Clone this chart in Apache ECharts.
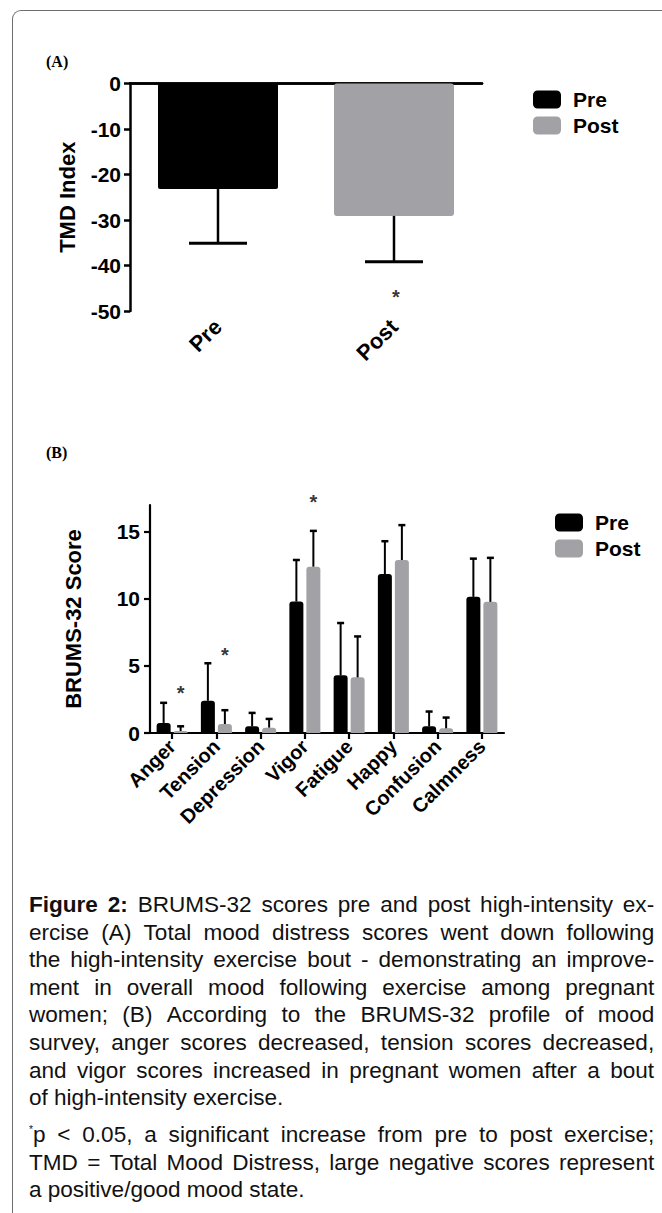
<!DOCTYPE html>
<html>
<head>
<meta charset="utf-8">
<script src="https://cdn.jsdelivr.net/npm/echarts@6/dist/echarts.min.js"></script>
<style>
  html, body { margin: 0; padding: 0; background: #fff; }
  body { width: 662px; height: 1213px; position: relative; overflow: hidden; font-family: 'Liberation Sans', Arial, sans-serif; }
  #frame { position: absolute; left: 12px; top: 10px; width: 720px; height: 1260px;
           border-left: 1.5px solid #6e6e6e; border-top: 1.5px solid #6e6e6e; border-top-left-radius: 9px; }
  #chart { position: absolute; left: 0; top: 0; width: 662px; height: 870px; }
  #caption { position: absolute; left: 29px; top: 891px; width: 610px; font-size: 22px; color: #111;
             transform: scaleX(1.025); transform-origin: 0 0; }
  .ln { display: flex; justify-content: space-between; height: 27.6px; line-height: 27.6px; white-space: nowrap; }
  .ln.last { justify-content: flex-start; gap: 6px; }
  .gap { height: 9.4px; }
  sup { font-size: 10px; position: relative; top: -9px; vertical-align: baseline; line-height: 0; }
</style>
</head>
<body>
<div id="frame"></div>
<div id="chart"></div>
<div id="caption"></div>
<script>
// (A) TMD index
const groupsA = ['Pre', 'Post'];
const tmdMean = [-23.2, -29.1];
const tmdSd = [11.9, 10.1];
const tmdStar = ['-', -45.5];

// (B) BRUMS-32 subscales
const moods = ['Anger', 'Tension', 'Depression', 'Vigor', 'Fatigue', 'Happy', 'Confusion', 'Calmness'];
const preMean = [0.75, 2.4, 0.5, 9.8, 4.3, 11.85, 0.5, 10.15];
const preSd = [1.5, 2.8, 1.0, 3.1, 3.9, 2.45, 1.1, 2.85];
const postMean = [0.15, 0.67, 0.4, 12.4, 4.15, 12.9, 0.35, 9.78];
const postSd = [0.35, 1.03, 0.65, 2.67, 3.05, 2.6, 0.8, 3.28];
const starB = [3.4, 6.3, '-', 17.7, '-', '-', '-', '-'];
const ticksB = [0, 5, 10, 15];

// caption, one entry per printed line ('' = paragraph break, '#' = last line of paragraph)
const captionLines = [
  '<b>Figure</b> <b>2:</b> BRUMS-32 scores pre and post high-intensity ex-',
  'ercise (A) Total mood distress scores went down following',
  'the high-intensity exercise bout - demonstrating an improve-',
  'ment in overall mood following exercise among pregnant',
  'women; (B) According to the BRUMS-32 profile of mood',
  'survey, anger scores decreased, tension scores decreased,',
  'and vigor scores increased in pregnant women after a bout',
  '#of high-intensity exercise.',
  '',
  '<sup>*</sup>p &lt; 0.05, a significant increase from pre to post exercise;',
  'TMD = Total Mood Distress, large negative scores represent',
  '#a positive/good mood state.'
];

const cap = document.getElementById('caption');
captionLines.forEach(function (l) {
  const d = document.createElement('div');
  if (l === '') { d.className = 'gap'; cap.appendChild(d); return; }
  const last = l.charAt(0) === '#';
  d.className = last ? 'ln last' : 'ln';
  d.innerHTML = (last ? l.slice(1) : l).split(' ').map(w => '<span>' + w + '</span>').join('');
  cap.appendChild(d);
});

const PRE = '#000000';
const POST = '#a2a2a6';
const FONT = "'Liberation Sans', Arial, sans-serif";
const barW = 14, barGapPx = 3;
const shift = (barW + barGapPx) / 2;

function errorBar(dir, dx, capW, lw) {
  return function (params, api) {
    const i = api.value(0), m = api.value(1), s = api.value(2);
    const p0 = api.coord([i, m]);
    const p1 = api.coord([i, m + dir * s]);
    const x = p0[0] + dx;
    return {
      type: 'group',
      children: [
        { type: 'line', shape: { x1: x, y1: p0[1], x2: x, y2: p1[1] }, style: { stroke: '#000', lineWidth: lw } },
        { type: 'line', shape: { x1: x - capW, y1: p1[1], x2: x + capW, y2: p1[1] }, style: { stroke: '#000', lineWidth: lw + 0.5 } }
      ]
    };
  };
}

const starLabel = (dx) => ({
  show: true, formatter: '*', position: 'inside', offset: [dx, 6],
  color: '#000', fontSize: 20, fontWeight: 'bold', fontFamily: FONT
});
const legendStyle = { fontSize: 21, fontWeight: 'bold', color: '#000', padding: [0, 0, 0, 7] };

const chart = echarts.init(document.getElementById('chart'), null, { renderer: 'svg' });
chart.setOption({
  animation: false,
  textStyle: { fontFamily: FONT, color: '#000' },
  title: [
    { text: '(A)', left: 46, top: 53, padding: 0, textStyle: { fontFamily: "'Liberation Serif', serif", fontSize: 16, fontWeight: 'bold', color: '#000' } },
    { text: '(B)', left: 46, top: 444, padding: 0, textStyle: { fontFamily: "'Liberation Serif', serif", fontSize: 16, fontWeight: 'bold', color: '#000' } }
  ],
  legend: [
    { data: ['Pre', 'Post'], orient: 'vertical', left: 533, top: 89, padding: 0, itemWidth: 28, itemHeight: 18, itemGap: 5, icon: 'roundRect', textStyle: legendStyle },
    { data: ['Pre', 'Post'], orient: 'vertical', left: 555, top: 512, padding: 0, itemWidth: 28, itemHeight: 18, itemGap: 5, icon: 'roundRect', textStyle: legendStyle }
  ],
  grid: [
    { left: 130, top: 83.5, width: 352, height: 227.5 },
    { left: 150, top: 505, width: 354, height: 228 }
  ],
  xAxis: [
    { type: 'category', gridIndex: 0, data: groupsA, position: 'bottom',
      axisLine: { lineStyle: { color: '#000', width: 2.5 } },
      axisTick: { show: true, alignWithLabel: true, length: 7, lineStyle: { color: '#000', width: 2.5 } },
      axisLabel: { rotate: 45, margin: 12, fontSize: 22, fontWeight: 'bold', color: '#000' } },
    { type: 'category', gridIndex: 0, data: groupsA, position: 'top',
      axisLine: { lineStyle: { color: '#000', width: 2.5 } }, axisTick: { show: false }, axisLabel: { show: false } },
    { type: 'category', gridIndex: 1, data: moods,
      axisLine: { lineStyle: { color: '#000', width: 2.2 } },
      axisTick: { show: true, alignWithLabel: true, length: 6, lineStyle: { color: '#000', width: 2.2 } },
      axisLabel: { rotate: 45, margin: 10, fontSize: 20, fontWeight: 'bold', color: '#000', interval: 0 } }
  ],
  yAxis: [
    { type: 'value', gridIndex: 0, min: -50, max: 0, interval: 10,
      name: 'TMD Index', nameLocation: 'middle', nameGap: 52,
      nameTextStyle: { fontSize: 22, fontWeight: 'bold', color: '#000' },
      axisLine: { show: true, lineStyle: { color: '#000', width: 2.5 } },
      axisTick: { show: true, length: 6, lineStyle: { color: '#000', width: 2.5 } },
      splitLine: { show: false },
      axisLabel: { margin: 9, fontSize: 21, fontWeight: 'bold', color: '#000' } },
    { type: 'value', gridIndex: 1, min: 0, max: 17, interval: 5,
      name: 'BRUMS-32 Score', nameLocation: 'middle', nameGap: 66,
      nameTextStyle: { fontSize: 22, fontWeight: 'bold', color: '#000' },
      axisLine: { show: true, lineStyle: { color: '#000', width: 2.2 } },
      axisTick: { show: true, length: 6, customValues: ticksB, lineStyle: { color: '#000', width: 2.2 } },
      splitLine: { show: false },
      axisLabel: { margin: 10, fontSize: 21, fontWeight: 'bold', color: '#000', customValues: ticksB } }
  ],
  series: [
    // (A)
    { name: 'Pre', type: 'bar', xAxisIndex: 0, yAxisIndex: 0, stack: 'tmd', barWidth: 120,
      data: [tmdMean[0], '-'], itemStyle: { color: PRE, borderRadius: 2 } },
    { name: 'Post', type: 'bar', xAxisIndex: 0, yAxisIndex: 0, stack: 'tmd', barWidth: 120,
      data: ['-', tmdMean[1]], itemStyle: { color: POST, borderRadius: 3 } },
    { name: 'errA', type: 'custom', xAxisIndex: 0, yAxisIndex: 0, z: 3,
      data: groupsA.map((g, i) => [i, tmdMean[i], tmdSd[i]]),
      renderItem: errorBar(-1, 0, 29, 2.5) },
    { name: 'starA', type: 'scatter', xAxisIndex: 0, yAxisIndex: 0, symbolSize: 1, clip: false,
      itemStyle: { color: 'rgba(0,0,0,0)' }, data: tmdStar, label: starLabel(2) },
    // (B)
    { name: 'Pre', type: 'bar', xAxisIndex: 2, yAxisIndex: 1, barWidth: barW, barGap: (barGapPx / barW * 100) + '%',
      data: preMean, itemStyle: { color: PRE, borderRadius: [3, 3, 0, 0] } },
    { name: 'Post', type: 'bar', xAxisIndex: 2, yAxisIndex: 1, barWidth: barW,
      data: postMean, itemStyle: { color: POST, borderRadius: [3, 3, 0, 0] } },
    { name: 'errPre', type: 'custom', xAxisIndex: 2, yAxisIndex: 1, z: 3, clip: false,
      data: moods.map((m, i) => [i, preMean[i], preSd[i]]),
      renderItem: errorBar(1, -shift, 3.5, 2) },
    { name: 'errPost', type: 'custom', xAxisIndex: 2, yAxisIndex: 1, z: 3, clip: false,
      data: moods.map((m, i) => [i, postMean[i], postSd[i]]),
      renderItem: errorBar(1, shift, 3.5, 2) },
    { name: 'starB', type: 'scatter', xAxisIndex: 2, yAxisIndex: 1, symbolSize: 1, clip: false,
      itemStyle: { color: 'rgba(0,0,0,0)' }, data: starB, label: starLabel(shift) }
  ]
});
</script>
</body>
</html>
